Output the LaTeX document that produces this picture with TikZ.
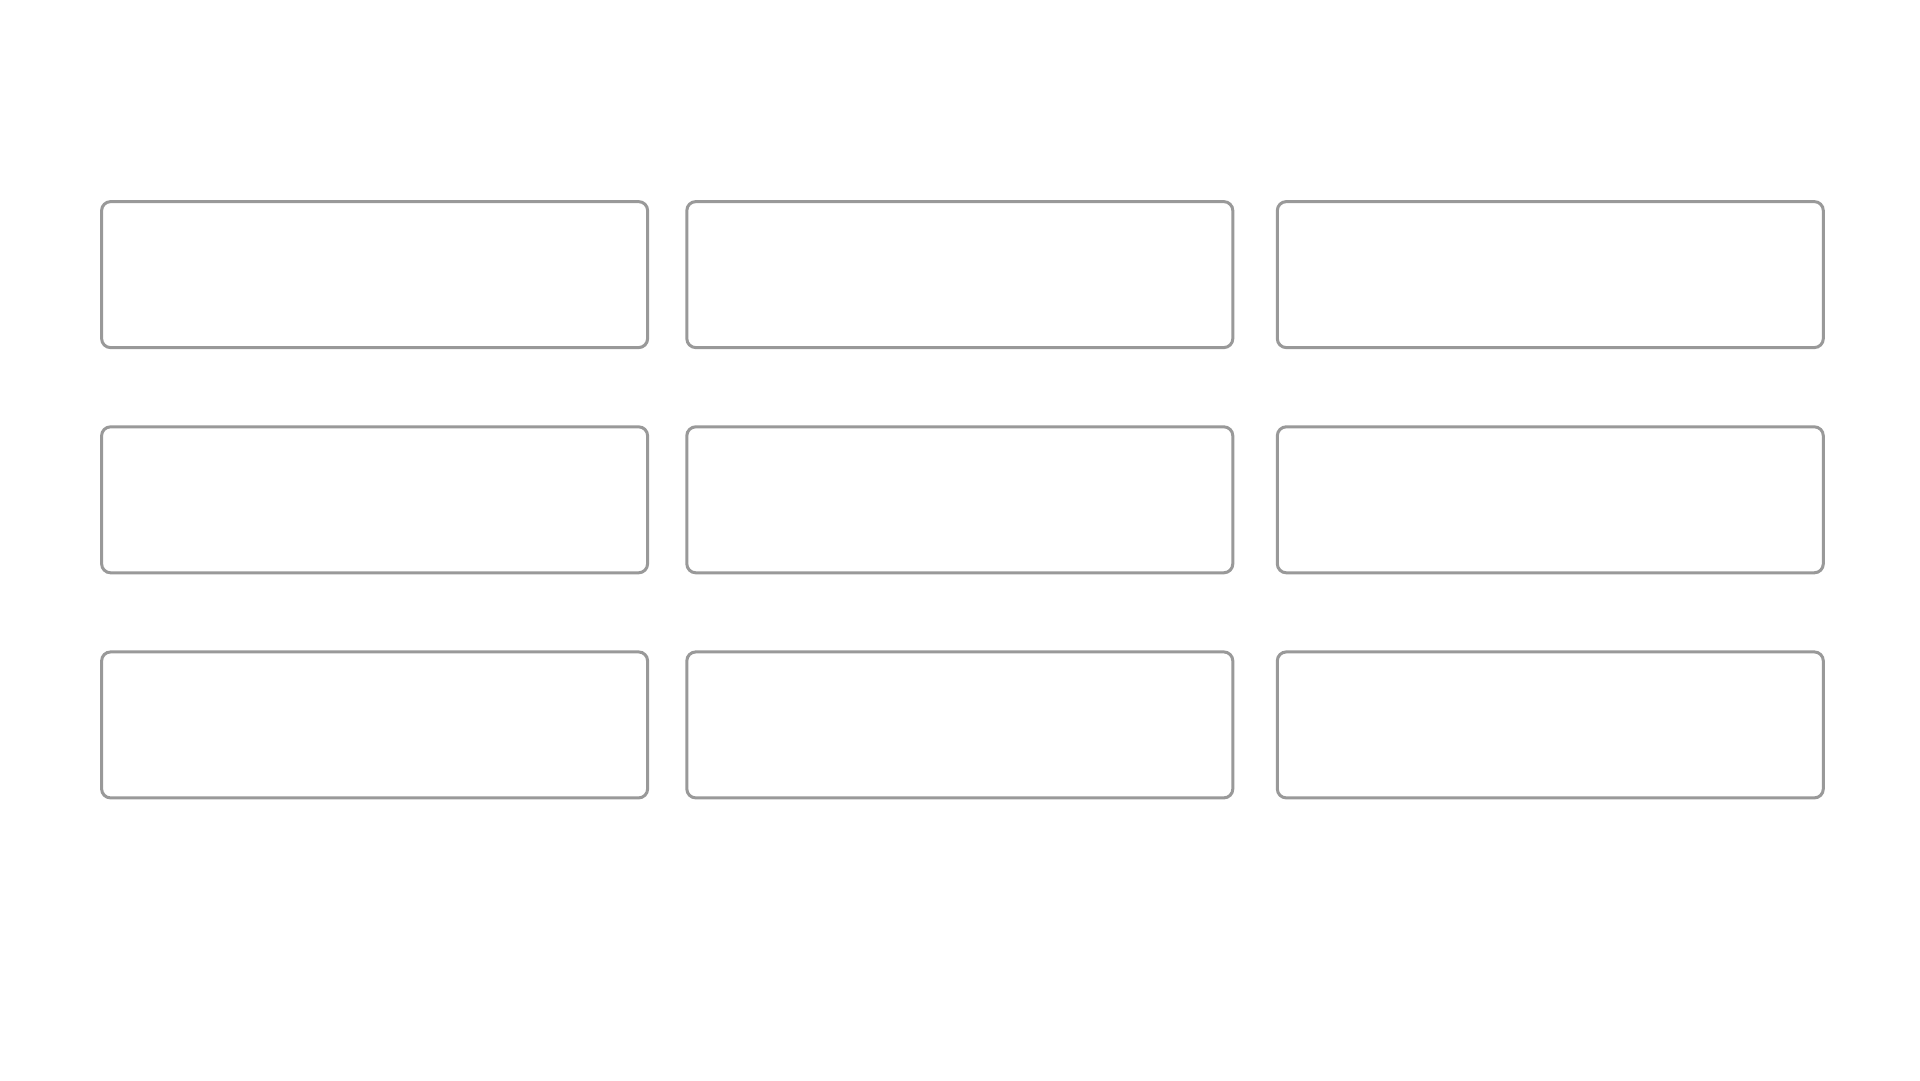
\documentclass[tikz,border=0pt]{standalone}
\usepackage{tikz}
\definecolor{boxgray}{RGB}{153,153,153}
\begin{document}
\begin{tikzpicture}[x=1pt,y=-1pt,
  cell/.style={draw=boxgray, line width=3pt, rounded corners=9pt, rectangle,
    minimum width=546pt, minimum height=146pt, inner sep=0pt, fill=white}]
\useasboundingbox[fill=white] (0,0) rectangle (1920,1080);
\node[cell] (a1) at (374.6,274.6) {};
\node[cell] (a2) at (959.8,274.6) {};
\node[cell] (a3) at (1550.3,274.6) {};
\node[cell] (b1) at (374.6,499.8) {};
\node[cell] (b2) at (959.8,499.8) {};
\node[cell] (b3) at (1550.3,499.8) {};
\node[cell] (c1) at (374.6,724.9) {};
\node[cell] (c2) at (959.8,724.9) {};
\node[cell] (c3) at (1550.3,724.9) {};
\end{tikzpicture}
\end{document}
